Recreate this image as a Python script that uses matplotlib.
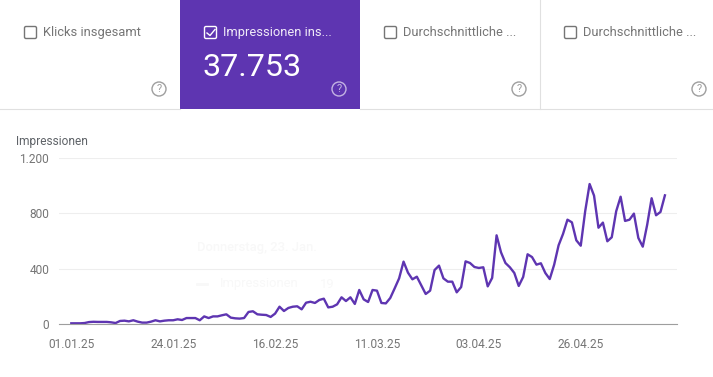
import matplotlib
matplotlib.use('Agg')
import matplotlib.pyplot as plt
from matplotlib.patches import Rectangle, Circle, FancyBboxPatch

plt.rcParams['font.family'] = ['Roboto', 'DejaVu Sans']

# Impressionen pro Tag (01.01.25 bis 15.05.25)
impressionen = [
    5, 5, 5, 7, 14, 16, 15, 15, 15, 12, 7, 22, 24, 19, 27, 17, 10, 10, 17, 27,
    19, 24, 27, 27, 34, 29, 43, 43, 43, 27, 55, 43, 55, 55, 63, 70, 46, 41, 39, 43,
    87, 92, 70, 67, 65, 51, 75, 125, 94, 116, 125, 128, 106, 154, 161, 152, 174, 183, 120, 125,
    142, 193, 166, 193, 145, 246, 178, 159, 246, 241, 152, 149, 188, 258, 330, 451, 371, 323, 342, 280,
    217, 241, 390, 422, 330, 306, 306, 229, 267, 453, 441, 412, 405, 410, 272, 333, 641, 518, 441, 410,
    369, 275, 340, 504, 484, 429, 439, 369, 325, 429, 569, 651, 754, 735, 605, 566, 815, 1012, 928, 696,
    733, 598, 627, 815, 920, 745, 754, 798, 622, 559, 718, 909, 786, 810, 930,
]
tage = list(range(len(impressionen)))

x_ticks = [0, 23, 46, 69, 92, 115]
x_labels = ['01.01.25', '24.01.25', '16.02.25', '11.03.25', '03.04.25', '26.04.25']
y_ticks = [0, 400, 800, 1200]
y_labels = ['0', '400', '800', '1.200']

karten_links = [0, 180, 360, 540]
karten_text = ['Klicks insgesamt', 'Impressionen ins...', 'Durchschnittliche ...', 'Durchschnittliche ...']

lila = '#5e35b1'
grau = '#757575'
W, H = 713, 377

fig = plt.figure(figsize=(W / 100, H / 100), dpi=100, facecolor='white')

# Ebene in Pixelkoordinaten fuer die Karten oben
bg = fig.add_axes([0, 0, 1, 1])
bg.set_xlim(0, W)
bg.set_ylim(H, 0)
bg.axis('off')

bg.add_patch(Rectangle((180, 0), 180, 109, fc=lila, ec='none'))
bg.plot([0, 180], [109, 109], color='#e0e0e0', lw=0.8)
bg.plot([360, W], [109, 109], color='#e0e0e0', lw=0.8)
bg.plot([539.5, 539.5], [0, 109], color='#e0e0e0', lw=0.8)

for i, links in enumerate(karten_links):
    aktiv = i == 1
    farbe = 'white' if aktiv else grau
    bg.add_patch(FancyBboxPatch((links + 24.5, 26.5), 12, 12, boxstyle='round,pad=0,rounding_size=1.5',
                                fc='none', ec=farbe, lw=1.0))
    bg.text(links + 43, 32.5, karten_text[i], color='#f0ebf8' if aktiv else grau, fontsize=9.3,
            va='center', ha='left')
    bg.add_patch(Circle((links + 159, 89), 7, fc='none', ec='#c4b3e3' if aktiv else '#9e9e9e', lw=1.0))
    bg.text(links + 159, 89, '?', color='#c4b3e3' if aktiv else '#9e9e9e', fontsize=8,
            va='center', ha='center')

bg.plot([207, 210, 215], [33, 35.5, 29.5], color='white', lw=1.0)
bg.text(203, 68, '37.753', color='white', fontsize=23.2, va='center', ha='left')
bg.text(16, 141, 'Impressionen', color='#5f6368', fontsize=8.6, va='center', ha='left')

# kaum sichtbarer Tooltip hinter dem Diagramm
bg.text(197, 248, 'Donnerstag, 23. Jan.', color='#f8f8f8', fontsize=9.4, weight='medium', va='center', ha='left')
bg.plot([197, 207], [283.5, 283.5], color='#f8f8f8', lw=2)
bg.text(220, 284, 'Impressionen', color='#f8f8f8', fontsize=9.4, va='center', ha='left')
bg.text(320, 284, '19', color='#f8f8f8', fontsize=9.4, va='center', ha='left')

# Diagramm
links, rechts, oben, unten = 59, 677, 158, 324
px_pro_tag = 4.43
ax = fig.add_axes([links / W, 1 - unten / H, (rechts - links) / W, (unten - oben) / H])
ax.patch.set_alpha(0)
ax.plot(tage, impressionen, color=lila, lw=1.7, solid_joinstyle='round', clip_on=False)
ax.set_xlim((59 - 71.3) / px_pro_tag, (677 - 71.3) / px_pro_tag)
ax.set_ylim(0, 1200)
ax.set_xticks(x_ticks)
ax.set_xticklabels(x_labels)
ax.set_yticks(y_ticks)
ax.set_yticklabels(y_labels, va='center_baseline')
ax.tick_params(axis='both', length=0, labelcolor=grau, labelsize=8.6)
ax.tick_params(axis='x', pad=10)
ax.tick_params(axis='y', pad=7)
ax.grid(axis='y', color='#eeeeee', lw=0.8)
ax.set_axisbelow(True)
for s in ['top', 'left', 'right']:
    ax.spines[s].set_visible(False)
ax.spines['bottom'].set_color('#9e9e9e')
ax.spines['bottom'].set_linewidth(0.8)

fig.savefig('out.png', dpi=100)
